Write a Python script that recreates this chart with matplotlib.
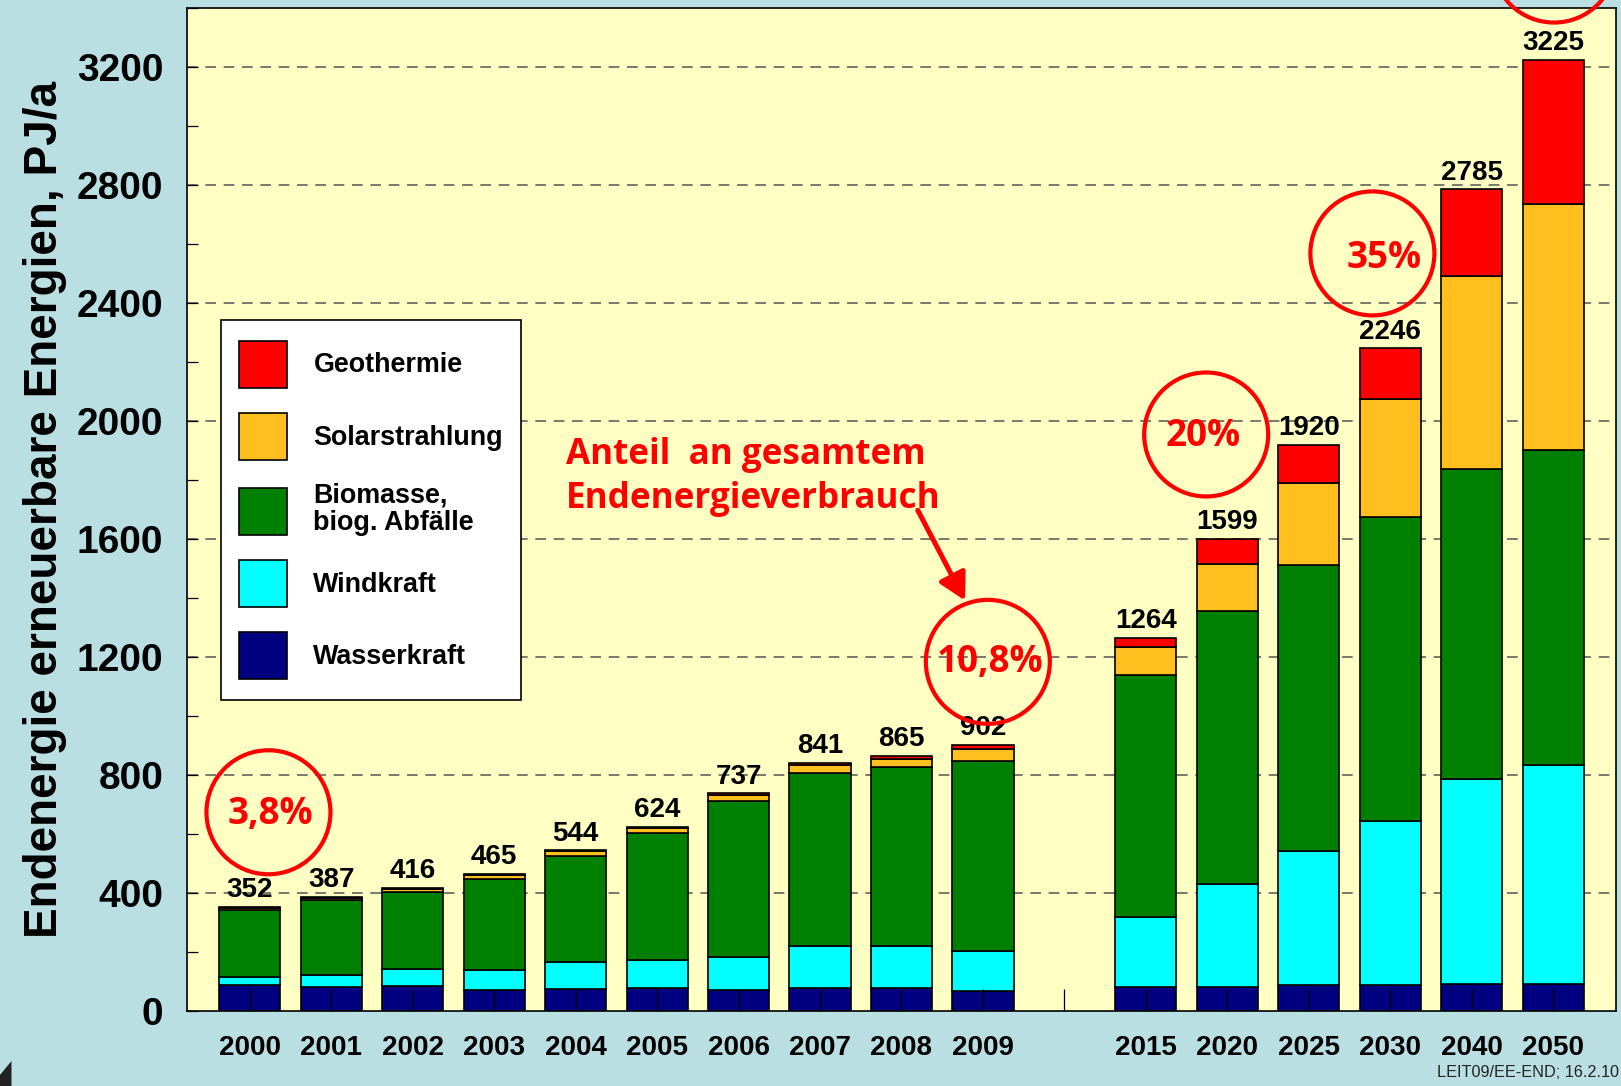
import numpy as np
import matplotlib
matplotlib.use('Agg')
import matplotlib.pyplot as plt
from matplotlib.patches import Patch, Rectangle, Ellipse, Polygon
from matplotlib.legend_handler import HandlerPatch
from matplotlib.ticker import MultipleLocator

plt.rcParams['font.family'] = ['Liberation Sans', 'DejaVu Sans']

# data (PJ/a)
years = ['2000', '2001', '2002', '2003', '2004', '2005', '2006', '2007', '2008', '2009',
         '2015', '2020', '2025', '2030', '2040', '2050']
xpos = [0, 1, 2, 3, 4, 5, 6, 7, 8, 9, 11, 12, 13, 14, 15, 16]
wasser = [87, 82, 85, 70, 75, 76, 72, 76, 76, 67, 80, 82, 86, 87, 89, 89]
wind = [29, 38, 56, 68, 91, 95, 109, 142, 145, 136, 238, 348, 456, 558, 697, 743]
bio = [224, 254, 260, 310, 360, 431, 529, 589, 605, 644, 819, 925, 968, 1028, 1052, 1069]
solar = [8, 9, 11, 13, 14, 17, 22, 26, 29, 39, 97, 160, 281, 402, 655, 835]
geo = [4, 4, 4, 4, 4, 5, 5, 8, 10, 16, 30, 84, 129, 171, 292, 489]
totals = [352, 387, 416, 465, 544, 624, 737, 841, 865, 902, 1264, 1599, 1920, 2246, 2785, 3225]

series = [('Wasserkraft', wasser, '#000080'),
          ('Windkraft', wind, '#00FFFF'),
          ('Biomasse,\nbiog. Abfälle', bio, '#008000'),
          ('Solarstrahlung', solar, '#FFBF1F'),
          ('Geothermie', geo, '#FF0000')]

# share of total final energy, circled
shares = ['3,8%', '10,8%', '20%', '35%']
share_x = [0.23, 9.06, 11.74, 13.78]
share_y = [673, 1183, 1954, 2568]
share_tx = [0.255, 9.09, 11.70, 13.93]
share_ty = [633, 1147, 1914, 2519]

W, H = 1621, 1086
fig = plt.figure(figsize=(W / 100, H / 100), dpi=100, facecolor='#BADFE3')
ax_rect = [0.1152, 0.0693, 0.8817, 0.9233]
ax = fig.add_axes(ax_rect, facecolor='#FFFFC4')

xmin, xmax = -0.773, 16.77
ymax = 3400
ax.set_xlim(xmin, xmax)
ax.set_ylim(0, ymax)

# units per pixel, to keep the rings round
ux = (xmax - xmin) / (ax_rect[2] * W)
uy = ymax / (ax_rect[3] * H)

bottom = np.zeros(len(xpos))
for name, vals, col in series:
    ax.bar(xpos, vals, width=0.75, bottom=bottom, color=col, edgecolor='black',
           linewidth=1.2, zorder=1)
    bottom += np.array(vals)

for x, t in zip(xpos, totals):
    ax.annotate(str(t), (x, t), xytext=(0, 7), textcoords='offset points',
                ha='center', va='baseline', fontsize=20, fontweight='bold', zorder=3)

for yv in range(400, 3201, 400):
    ax.axhline(yv, color='#555555', lw=1.1, ls=(0, (7, 5)), zorder=0.8)

ax.set_xticks(range(17))
ax.set_xticklabels([years[xpos.index(i)] if i in xpos else '' for i in range(17)],
                   fontsize=20, fontweight='bold')
ax.tick_params(axis='x', direction='in', length=15.5, width=0.9, pad=17.5, color='black')
ax.yaxis.set_major_locator(MultipleLocator(400))
ax.yaxis.set_minor_locator(MultipleLocator(200))
ax.tick_params(axis='y', which='both', direction='in', length=8, width=0.9)
ax.tick_params(axis='y', which='major', labelsize=28, pad=17)
for lab in ax.get_yticklabels():
    lab.set_fontweight('bold')
for sp in ax.spines.values():
    sp.set_linewidth(1.2)
    sp.set_color('black')

ax.set_ylabel('Endenergie erneuerbare Energien, PJ/a', fontsize=33, fontweight='bold',
              va='center')
ax.yaxis.set_label_coords(-0.099, 0.5003)

# legend
def swatch(legend, orig_handle, xdescent, ydescent, width, height, fontsize):
    h = 1.75 * fontsize
    return Rectangle((-xdescent, -ydescent + height / 2 - h / 2), width, h)

handles = [Patch(facecolor=c, edgecolor='black', linewidth=1.2, label=n)
           for n, v, c in series[::-1]]
leg = ax.legend(handles=handles, loc='upper left', bbox_to_anchor=(0.024, 0.6888),
                borderaxespad=0, fontsize=19.4, frameon=True, fancybox=False,
                framealpha=1, edgecolor='black', facecolor='white',
                handlelength=1.78, handleheight=2.6, handletextpad=0.98,
                labelspacing=0.75, borderpad=0.67,
                handler_map={Patch: HandlerPatch(patch_func=swatch)})
leg.get_frame().set_linewidth(1.2)
for t in leg.get_texts():
    t.set_fontweight('bold')
    t.set_linespacing(1.05)
leg.set_zorder(5)

# red annotations
red = '#FF0000'
rf = ['Open Sans', 'DejaVu Sans']
r = 62
for cx, cy in zip(share_x + [16.01], share_y + [3561]):
    ax.add_patch(Ellipse((cx, cy), 2 * r * ux, 2 * r * uy, fill=False,
                         edgecolor=red, lw=3, zorder=6, clip_on=False))
for s, tx, ty in zip(shares, share_tx, share_ty):
    ax.text(tx, ty, s, color=red, fontsize=26.5, fontweight='bold', family=rf,
            ha='center', va='baseline', zorder=7)

ax.text(3.88, 1853, 'Anteil  an gesamtem', color=red, fontsize=25.2, fontweight='bold',
        family=rf, ha='left', va='baseline', zorder=7)
ax.text(3.88, 1705, 'Endenergieverbrauch', color=red, fontsize=25.2, fontweight='bold',
        family=rf, ha='left', va='baseline', zorder=7)
ax.annotate('', xy=(8.78, 1391), xytext=(8.20, 1697),
            arrowprops=dict(arrowstyle='-|>,head_length=0.4,head_width=0.22',
                            color=red, lw=3.6, mutation_scale=40,
                            shrinkA=0, shrinkB=0), zorder=7)

fig.text(1619 / W, 1 - 1077 / H, 'LEIT09/EE-END; 16.2.10', ha='right', va='baseline',
         fontsize=11.7, color='#222222')
fig.patches.append(Polygon([(0, 1 - 1075 / H), (11.5 / W, 1 - 1061 / H), (11.5 / W, 0), (0, 0)],
                           closed=True, transform=fig.transFigure, facecolor='#222222',
                           edgecolor='none'))

fig.savefig('out.png', dpi=100, facecolor=fig.get_facecolor())
